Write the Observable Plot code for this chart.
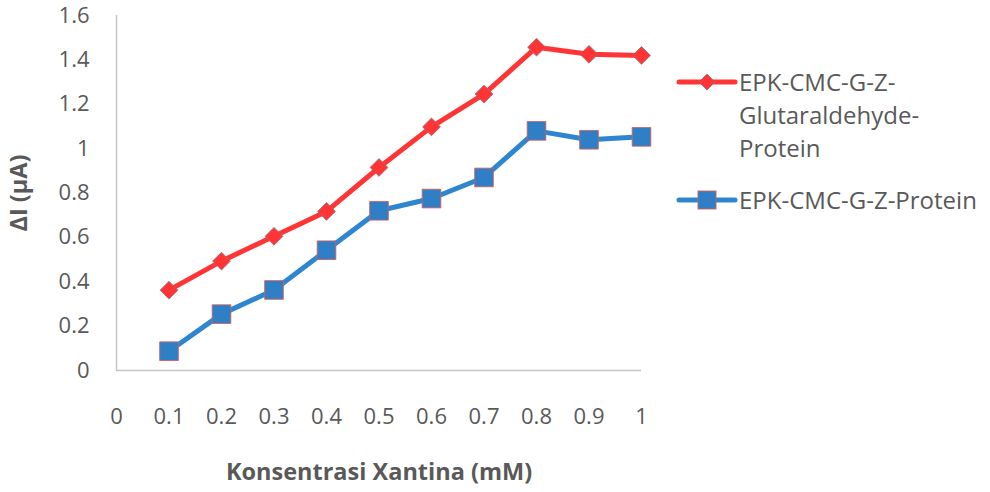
<!DOCTYPE html>
<html><head><meta charset="utf-8">
<script src="https://cdn.jsdelivr.net/npm/d3@7"></script>
<script src="https://cdn.jsdelivr.net/npm/@observablehq/plot@0.6"></script>
<style>
body{margin:0;background:#fff;}
#wrap{position:relative;width:990px;height:492px;font-family:"Open Sans",sans-serif;color:#595959;}
#wrap svg g[aria-label="y-axis label"], #wrap svg g[aria-label="x-axis label"]{font-weight:bold;font-size:23.5px;}
.legtxt{position:absolute;font-size:24px;line-height:33px;color:#595959;white-space:nowrap;}
.legsym{position:absolute;}
</style></head><body><div id="wrap"></div>
<script>
const concentrations = [0.1, 0.2, 0.3, 0.4, 0.5, 0.6, 0.7, 0.8, 0.9, 1.0];
const seriesNames = ["EPK-CMC-G-Z-Glutaraldehyde-Protein", "EPK-CMC-G-Z-Protein"];
const glutaraldehydeProtein = [0.362, 0.493, 0.605, 0.717, 0.915, 1.098, 1.246, 1.457, 1.425, 1.42];
const proteinOnly = [0.087, 0.254, 0.363, 0.542, 0.72, 0.775, 0.87, 1.08, 1.04, 1.053];
const xTicks = [0, 0.1, 0.2, 0.3, 0.4, 0.5, 0.6, 0.7, 0.8, 0.9, 1];
const yTicks = [0, 0.2, 0.4, 0.6, 0.8, 1, 1.2, 1.4, 1.6];
const xLabel = "Konsentrasi Xantina (mM)";
const yLabel = "ΔI (μA)";
const seriesColors = ["#ff3535", "#2e86d0"];

const table = concentrations.flatMap((c, i) => [
  {c, v: glutaraldehydeProtein[i], s: seriesNames[0]},
  {c, v: proteinOnly[i], s: seriesNames[1]}
]);
const redData = table.filter(d => d.s === seriesNames[0]);
const blueData = table.filter(d => d.s === seriesNames[1]);

const chart = Plot.plot({
  width: 990,
  height: 492,
  marginLeft: 116,
  marginRight: 349,
  marginTop: 15,
  marginBottom: 122,
  style: {fontFamily: "'Open Sans', sans-serif", fontSize: "22px", color: "#595959", background: "transparent"},
  x: {domain: [0, 1], ticks: xTicks, tickFormat: d => String(d), tickSize: 0, tickPadding: 38,
      label: xLabel, labelAnchor: "center", labelOffset: 109, labelArrow: "none"},
  y: {domain: [0, 1.6], ticks: yTicks, tickFormat: d => String(d), tickSize: 0, tickPadding: 27,
      label: yLabel, labelAnchor: "center", labelOffset: 106, labelArrow: "none"},
  color: {domain: seriesNames, range: seriesColors},
  marks: [
    Plot.ruleX([0], {stroke: "#c4c4c4", strokeWidth: 1.5}),
    Plot.ruleY([0], {stroke: "#c4c4c4", strokeWidth: 1.5}),
    Plot.line(table, {x: "c", y: "v", z: "s", stroke: "s", strokeWidth: 5, strokeLinejoin: "round", strokeLinecap: "round"}),
    Plot.dot(redData, {x: "c", y: "v", symbol: "diamond2", r: 8, fill: "s", stroke: "#9a6a7a", strokeWidth: 0.8}),
    Plot.dot(blueData, {x: "c", y: "v", symbol: "square", r: 10.5, fill: "#2f7fc6", stroke: "#d0605e", strokeWidth: 0.9})
  ]
});
const wrap = document.getElementById("wrap");
wrap.appendChild(chart);

// Legend
function legSym(top, color, kind) {
  const ns = "http://www.w3.org/2000/svg";
  const s = document.createElementNS(ns, "svg");
  s.setAttribute("width", 62); s.setAttribute("height", 24);
  s.setAttribute("class", "legsym");
  s.style.left = "676px"; s.style.top = (top - 12) + "px";
  const l = document.createElementNS(ns, "line");
  l.setAttribute("x1", 3); l.setAttribute("x2", 59); l.setAttribute("y1", 12); l.setAttribute("y2", 12);
  l.setAttribute("stroke", color); l.setAttribute("stroke-width", 5); l.setAttribute("stroke-linecap", "round");
  s.appendChild(l);
  if (kind === "diamond") {
    const p = document.createElementNS(ns, "path");
    p.setAttribute("d", "M31,4L39,12L31,20L23,12Z");
    p.setAttribute("fill", color); p.setAttribute("stroke", "#9a6a7a"); p.setAttribute("stroke-width", 0.8);
    s.appendChild(p);
  } else {
    const r = document.createElementNS(ns, "rect");
    r.setAttribute("x", 22); r.setAttribute("y", 3); r.setAttribute("width", 18); r.setAttribute("height", 18);
    r.setAttribute("fill", "#2f7fc6"); r.setAttribute("stroke", "#d0605e"); r.setAttribute("stroke-width", 0.9);
    s.appendChild(r);
  }
  wrap.appendChild(s);
}
legSym(82, seriesColors[0], "diamond");
legSym(200, seriesColors[1], "square");
const t1 = document.createElement("div");
t1.className = "legtxt"; t1.style.left = "739px"; t1.style.top = "65px";
t1.innerHTML = "EPK-CMC-G-Z-<br>Glutaraldehyde-<br>Protein";
wrap.appendChild(t1);
const t2 = document.createElement("div");
t2.className = "legtxt"; t2.style.left = "739px"; t2.style.top = "183px";
t2.textContent = seriesNames[1];
wrap.appendChild(t2);
</script></body></html>
